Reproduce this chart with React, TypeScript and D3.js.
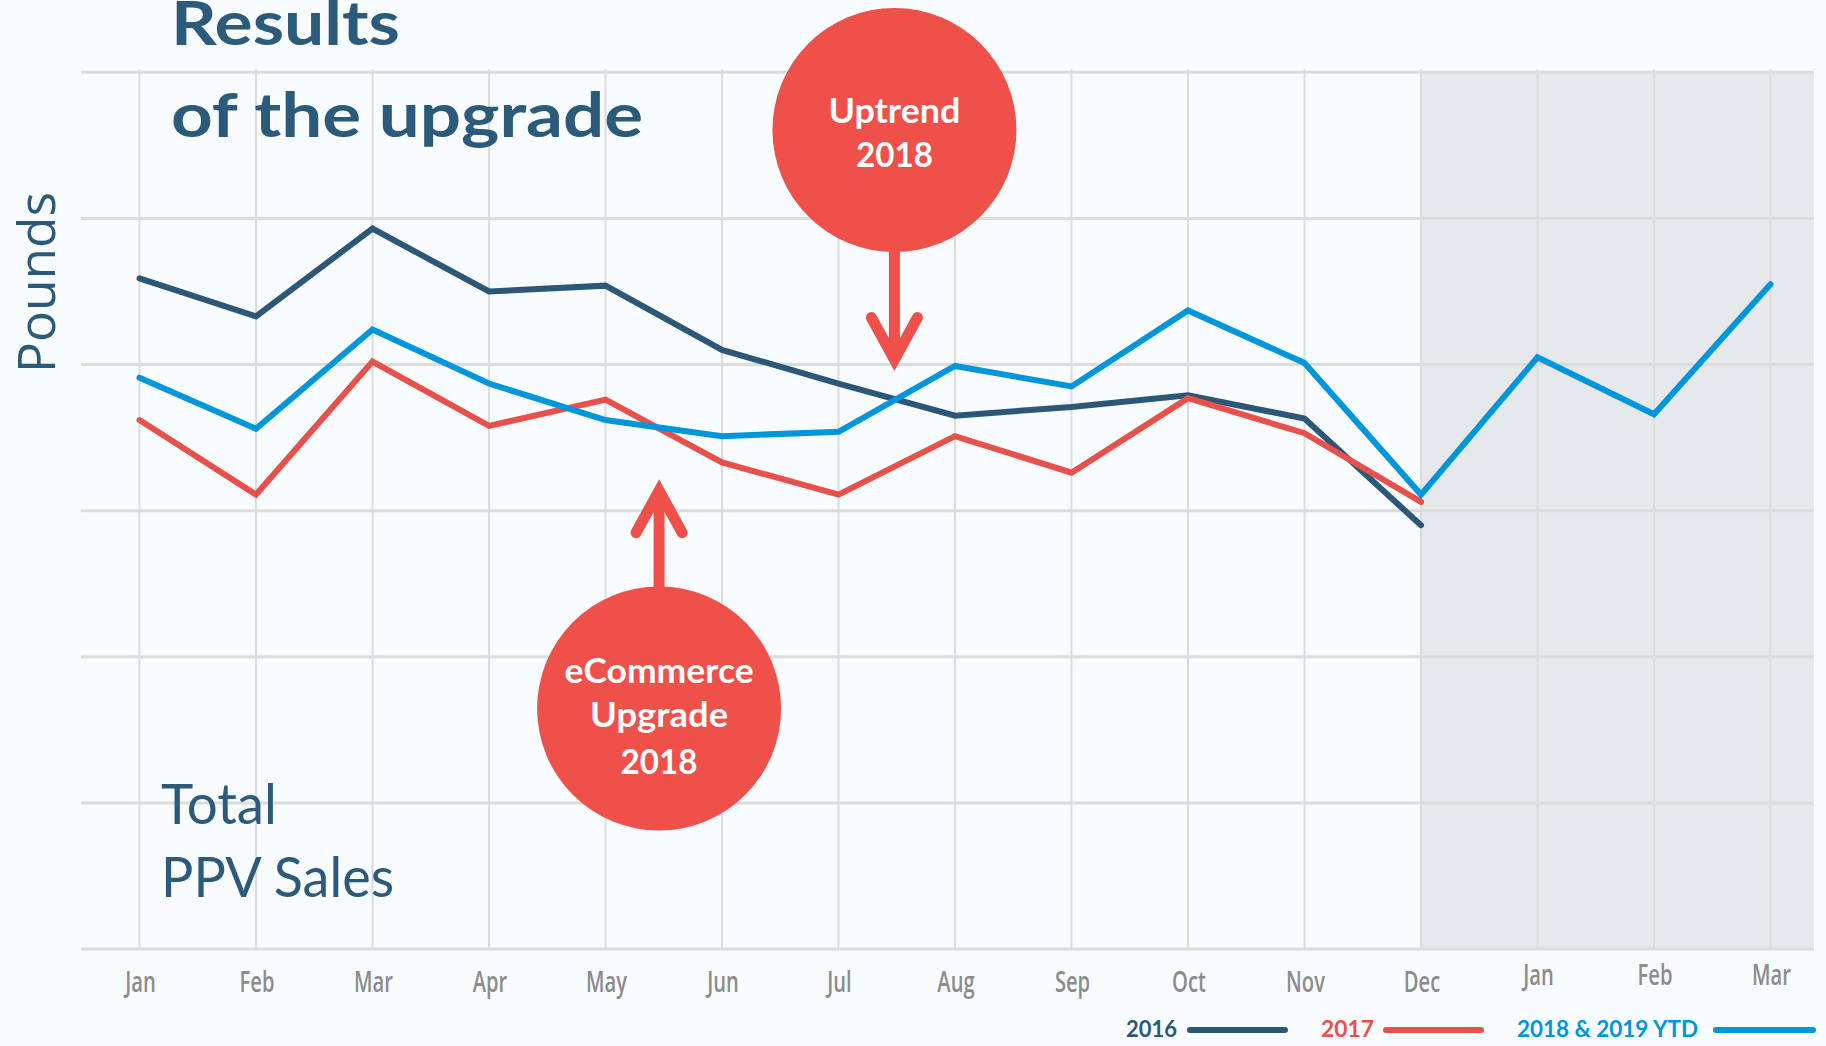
import React from 'react';
import * as d3 from 'd3';

// ---------- data ----------
const monthLabels = ['Jan', 'Feb', 'Mar', 'Apr', 'May', 'Jun', 'Jul', 'Aug', 'Sep', 'Oct', 'Nov', 'Dec', 'Jan', 'Feb', 'Mar'];
const values2016 = [459, 433, 493, 450, 454, 410, 387, 365, 371, 379, 363, 290];
const values2017 = [362, 311, 402, 358, 376, 333, 311, 351, 326, 377, 353, 306];
const values2018 = [391, 356, 424, 387, 362, 351, 354, 399, 385, 437, 401, 311, 405, 366, 455];
const yTicks = [0, 100, 200, 300, 400, 500, 600];
const legendLabels = ['2016', '2017', '2018 & 2019 YTD'];
const titleLines = ['Results', 'of the upgrade'];
const subtitleLines = ['Total', 'PPV Sales'];
const yAxisLabel = 'Pounds';
const uptrendLines = ['Uptrend', '2018'];
const upgradeLines = ['eCommerce', 'Upgrade', '2018'];
const shadedStartIndex = 11; // Dec
const uptrendIndex = 6.48; // between Jul and Aug
const upgradeIndex = 4.46; // between May and Jun

const W = 1826;
const H = 1046;

const COLORS = {
  bg: '#f8fcfe',
  shade: '#e6e9ec',
  grid: '#dcdcdc',
  navy: '#2d5777',
  red: '#e8504c',
  blue: '#0096db',
  title: '#2c5a7a',
  month: '#8c8c8c',
  bubble: '#ef504a',
};

export default function App() {
  const plotLeft = 81;
  const plotRight = 1814;
  const x = d3.scaleLinear().domain([0, 14]).range([139.5, 1770.5]);
  const y = d3.scaleLinear().domain([0, 600]).range([949, 72.3]);

  const line = d3
    .line<number>()
    .x((_, i) => x(i))
    .y((d) => y(d));

  const series = [
    { values: values2016, color: COLORS.navy },
    { values: values2017, color: COLORS.red },
    { values: values2018, color: COLORS.blue },
  ];

  const legendItems = [
    { label: legendLabels[0], color: COLORS.navy, textX: 1126, textLen: 51, lineX1: 1190, lineX2: 1285 },
    { label: legendLabels[1], color: COLORS.red, textX: 1321, textLen: 53, lineX1: 1386, lineX2: 1481 },
    { label: legendLabels[2], color: COLORS.blue, textX: 1517, textLen: 181, lineX1: 1716, lineX2: 1813 },
  ];

  const bubbleR = 122;
  const upX = x(uptrendIndex);
  const upCY = 130;
  const upTipY = y(400) + 1;
  const ecX = x(upgradeIndex);
  const ecCY = 708.5;
  const ecTipY = y(300) - 26;

  return (
    <svg
      width={W}
      height={H}
      style={{ position: 'absolute', left: 0, top: 0, display: 'block' }}
      xmlns="http://www.w3.org/2000/svg"
    >
      <rect x={0} y={0} width={W} height={H} fill={COLORS.bg} />
      {/* shaded YTD region */}
      <rect
        x={x(shadedStartIndex)}
        y={y(600)}
        width={plotRight - x(shadedStartIndex)}
        height={y(0) - y(600)}
        fill={COLORS.shade}
      />
      {/* vertical grid */}
      {monthLabels.map((_, i) => (
        <line key={'v' + i} x1={x(i)} x2={x(i)} y1={y(600) - 3} y2={y(0)} stroke={COLORS.grid} strokeWidth={2} />
      ))}
      {/* horizontal grid */}
      {yTicks.map((t) => (
        <line key={'h' + t} x1={plotLeft} x2={plotRight} y1={y(t)} y2={y(t)} stroke={COLORS.grid} strokeWidth={3} />
      ))}

      {/* title */}
      <g fontFamily="Lato, 'Open Sans', sans-serif" fontWeight={700} fontSize={62} fill={COLORS.title}>
        <text x={171} y={45} textLength={229} lengthAdjust="spacingAndGlyphs">{titleLines[0]}</text>
        <text x={171} y={137} textLength={472} lengthAdjust="spacingAndGlyphs">{titleLines[1]}</text>
      </g>

      {/* y axis label */}
      <text
        transform="translate(55,282.5) rotate(-90)"
        textAnchor="middle"
        fontFamily="'Open Sans', sans-serif"
        fontSize={52}
        fill={COLORS.title}
        textLength={181}
        lengthAdjust="spacingAndGlyphs"
      >
        {yAxisLabel}
      </text>

      {/* subtitle */}
      <g fontFamily="Lato, 'Open Sans', sans-serif" fontSize={56} fill={COLORS.title}>
        <text x={161} y={824} textLength={116} lengthAdjust="spacingAndGlyphs">{subtitleLines[0]}</text>
        <text x={161} y={897} textLength={233} lengthAdjust="spacingAndGlyphs">{subtitleLines[1]}</text>
      </g>

      {/* series lines */}
      {series.map((s, i) => (
        <path
          key={'s' + i}
          d={line(s.values) || ''}
          fill="none"
          stroke={s.color}
          strokeWidth={6}
          strokeLinecap="round"
          strokeLinejoin="miter"
        />
      ))}

      {/* month labels */}
      <g fontFamily="'Open Sans', 'Roboto', sans-serif" fontWeight={600} fontSize={28} fill={COLORS.month} textAnchor="middle">
        {monthLabels.map((m, i) => (
          <text key={'m' + i} transform={`translate(${x(i) + 1},${i < 12 ? 992 : 985}) scale(0.72,1)`}>
            {m}
          </text>
        ))}
      </g>

      {/* Uptrend bubble */}
      <g>
        <line x1={upX} x2={upX} y1={upCY + bubbleR - 5} y2={upTipY - 8} stroke={COLORS.bubble} strokeWidth={11} />
        <polyline
          points={`${upX - 23},${upTipY - 48} ${upX},${upTipY - 6} ${upX + 23},${upTipY - 48}`}
          fill="none"
          stroke={COLORS.bubble}
          strokeWidth={11}
          strokeLinecap="round"
          strokeLinejoin="miter"
          strokeMiterlimit={10}
        />
        <circle cx={upX} cy={upCY} r={bubbleR} fill={COLORS.bubble} />
        <g fontFamily="Lato, 'Open Sans', sans-serif" fontWeight={700} fontSize={34} fill="#ffffff" textAnchor="middle">
          <text x={upX} y={123} textLength={132} lengthAdjust="spacingAndGlyphs">{uptrendLines[0]}</text>
          <text x={upX} y={167} textLength={77} lengthAdjust="spacingAndGlyphs">{uptrendLines[1]}</text>
        </g>
      </g>

      {/* eCommerce upgrade bubble */}
      <g>
        <line x1={ecX} x2={ecX} y1={ecCY - bubbleR + 5} y2={ecTipY + 8} stroke={COLORS.bubble} strokeWidth={11} />
        <polyline
          points={`${ecX - 23},${ecTipY + 48} ${ecX},${ecTipY + 6} ${ecX + 23},${ecTipY + 48}`}
          fill="none"
          stroke={COLORS.bubble}
          strokeWidth={11}
          strokeLinecap="round"
          strokeLinejoin="miter"
          strokeMiterlimit={10}
        />
        <circle cx={ecX} cy={ecCY} r={bubbleR} fill={COLORS.bubble} />
        <g fontFamily="Lato, 'Open Sans', sans-serif" fontWeight={700} fontSize={34} fill="#ffffff" textAnchor="middle">
          <text x={ecX} y={683} textLength={189} lengthAdjust="spacingAndGlyphs">{upgradeLines[0]}</text>
          <text x={ecX} y={727} textLength={138} lengthAdjust="spacingAndGlyphs">{upgradeLines[1]}</text>
          <text x={ecX} y={774} textLength={77} lengthAdjust="spacingAndGlyphs">{upgradeLines[2]}</text>
        </g>
      </g>

      {/* legend */}
      <g fontFamily="Lato, 'Open Sans', sans-serif" fontWeight={700} fontSize={22}>
        {legendItems.map((it, i) => (
          <g key={'l' + i}>
            <text x={it.textX} y={1037} fill={it.color} textLength={it.textLen} lengthAdjust="spacingAndGlyphs">
              {it.label}
            </text>
            <line x1={it.lineX1} x2={it.lineX2} y1={1030} y2={1030} stroke={it.color} strokeWidth={6} strokeLinecap="round" />
          </g>
        ))}
      </g>
    </svg>
  );
}
